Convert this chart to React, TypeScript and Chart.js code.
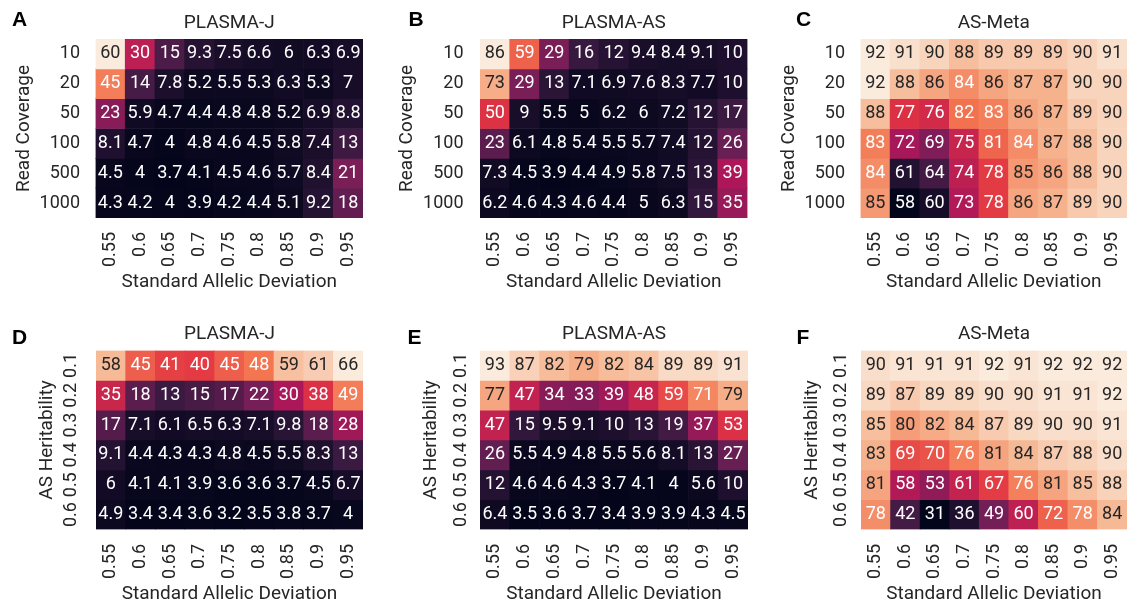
import React, { useEffect, useRef } from 'react';
import { Chart, registerables } from 'chart.js';

Chart.register(...registerables);

// ---------- data ----------
const sadLabels = ['0.55', '0.6', '0.65', '0.7', '0.75', '0.8', '0.85', '0.9', '0.95'];
const coverageLabels = ['10', '20', '50', '100', '500', '1000'];
const heritabilityLabels = ['0.1', '0.2', '0.3', '0.4', '0.5', '0.6'];

const plasmaJCoverage = [
  [60, 30, 15, 9.3, 7.5, 6.6, 6, 6.3, 6.9],
  [45, 14, 7.8, 5.2, 5.5, 5.3, 6.3, 5.3, 7],
  [23, 5.9, 4.7, 4.4, 4.8, 4.8, 5.2, 6.9, 8.8],
  [8.1, 4.7, 4, 4.8, 4.6, 4.5, 5.8, 7.4, 13],
  [4.5, 4, 3.7, 4.1, 4.5, 4.6, 5.7, 8.4, 21],
  [4.3, 4.2, 4, 3.9, 4.2, 4.4, 5.1, 9.2, 18],
];
const plasmaASCoverage = [
  [86, 59, 29, 16, 12, 9.4, 8.4, 9.1, 10],
  [73, 29, 13, 7.1, 6.9, 7.6, 8.3, 7.7, 10],
  [50, 9, 5.5, 5, 6.2, 6, 7.2, 12, 17],
  [23, 6.1, 4.8, 5.4, 5.5, 5.7, 7.4, 12, 26],
  [7.3, 4.5, 3.9, 4.4, 4.9, 5.8, 7.5, 13, 39],
  [6.2, 4.6, 4.3, 4.6, 4.4, 5, 6.3, 15, 35],
];
const asMetaCoverage = [
  [92, 91, 90, 88, 89, 89, 89, 90, 91],
  [92, 88, 86, 84, 86, 87, 87, 90, 90],
  [88, 77, 76, 82, 83, 86, 87, 89, 90],
  [83, 72, 69, 75, 81, 84, 87, 88, 90],
  [84, 61, 64, 74, 78, 85, 86, 88, 90],
  [85, 58, 60, 73, 78, 86, 87, 89, 90],
];
const plasmaJHeritability = [
  [58, 45, 41, 40, 45, 48, 59, 61, 66],
  [35, 18, 13, 15, 17, 22, 30, 38, 49],
  [17, 7.1, 6.1, 6.5, 6.3, 7.1, 9.8, 18, 28],
  [9.1, 4.4, 4.3, 4.3, 4.8, 4.5, 5.5, 8.3, 13],
  [6, 4.1, 4.1, 3.9, 3.6, 3.6, 3.7, 4.5, 6.7],
  [4.9, 3.4, 3.4, 3.6, 3.2, 3.5, 3.8, 3.7, 4],
];
const plasmaASHeritability = [
  [93, 87, 82, 79, 82, 84, 89, 89, 91],
  [77, 47, 34, 33, 39, 48, 59, 71, 79],
  [47, 15, 9.5, 9.1, 10, 13, 19, 37, 53],
  [26, 5.5, 4.9, 4.8, 5.5, 5.6, 8.1, 13, 27],
  [12, 4.6, 4.6, 4.3, 3.7, 4.1, 4, 5.6, 10],
  [6.4, 3.5, 3.6, 3.7, 3.4, 3.9, 3.9, 4.3, 4.5],
];
const asMetaHeritability = [
  [90, 91, 91, 91, 92, 91, 92, 92, 92],
  [89, 87, 89, 89, 90, 90, 91, 91, 92],
  [85, 80, 82, 84, 87, 89, 90, 90, 91],
  [83, 69, 70, 76, 81, 84, 87, 88, 90],
  [81, 58, 53, 61, 67, 76, 81, 85, 88],
  [78, 42, 31, 36, 49, 60, 72, 78, 84],
];

// ---------- colour map (seaborn "rocket") ----------
const rocketStops: [number, string][] = [
  [0, '#03051a'],
  [1 / 7, '#35193e'],
  [2 / 7, '#701f57'],
  [3 / 7, '#ad1759'],
  [4 / 7, '#e13342'],
  [5 / 7, '#f37651'],
  [6 / 7, '#f6b48f'],
  [1, '#faebdd'],
];

function hexToRgb(h: string): [number, number, number] {
  const n = parseInt(h.slice(1), 16);
  return [(n >> 16) & 255, (n >> 8) & 255, n & 255];
}

function rocket(t: number): [number, number, number] {
  const x = Math.max(0, Math.min(1, t));
  for (let i = 1; i < rocketStops.length; i++) {
    const [p1, c1] = rocketStops[i];
    const [p0, c0] = rocketStops[i - 1];
    if (x <= p1) {
      const f = (x - p0) / (p1 - p0);
      const a = hexToRgb(c0);
      const b = hexToRgb(c1);
      return [0, 1, 2].map((k) => a[k] + (b[k] - a[k]) * f) as [number, number, number];
    }
  }
  return hexToRgb(rocketStops[rocketStops.length - 1][1]);
}

function luminance(rgb: [number, number, number]): number {
  const lin = (c: number) => {
    const v = c / 255;
    return v <= 0.03928 ? v / 12.92 : Math.pow((v + 0.055) / 1.055, 2.4);
  };
  return 0.2126 * lin(rgb[0]) + 0.7152 * lin(rgb[1]) + 0.0722 * lin(rgb[2]);
}

const rgbStr = (c: [number, number, number]) =>
  `rgb(${Math.round(c[0])},${Math.round(c[1])},${Math.round(c[2])})`;

// ---------- panel layout ----------
type Panel = {
  letter: string;
  letterX: number;
  letterY: number;
  title: string;
  values: number[][];
  rows: string[];
  yTitle: string;
  left: number;
  top: number;
  width: number;
  height: number;
  yAxisWidth: number;
  padRight: number;
  titlePadTop: number;
  titlePadBottom: number;
  xAxisHeight: number;
  xTickPad: number;
  xTitlePadBottom: number;
  yTitlePad: number;
  yTickPad: number;
  rotateY: boolean;
};

const panels: Panel[] = [
  { letter: 'A', letterX: 12, letterY: 7, title: 'PLASMA-J', values: plasmaJCoverage, rows: coverageLabels, yTitle: 'Read Coverage',
    left: 0, top: 0, width: 380, height: 300, yAxisWidth: 95.5, padRight: 17, titlePadTop: 11.6, titlePadBottom: 4.6,
    xAxisHeight: 82, xTickPad: 14, xTitlePadBottom: 6.6, yTitlePad: 12.6, yTickPad: 15.5, rotateY: false },
  { letter: 'B', letterX: 408.5, letterY: 7, title: 'PLASMA-AS', values: plasmaASCoverage, rows: coverageLabels, yTitle: 'Read Coverage',
    left: 380, top: 0, width: 375, height: 300, yAxisWidth: 100, padRight: 7.5, titlePadTop: 11.6, titlePadBottom: 4.6,
    xAxisHeight: 82, xTickPad: 14, xTitlePadBottom: 6.6, yTitlePad: 16.1, yTickPad: 16.5, rotateY: false },
  { letter: 'C', letterX: 796, letterY: 7, title: 'AS-Meta', values: asMetaCoverage, rows: coverageLabels, yTitle: 'Read Coverage',
    left: 755, top: 0, width: 372, height: 300, yAxisWidth: 105.5, padRight: 0, titlePadTop: 11.6, titlePadBottom: 4.6,
    xAxisHeight: 82, xTickPad: 14, xTitlePadBottom: 6.6, yTitlePad: 22.6, yTickPad: 15.5, rotateY: false },
  { letter: 'D', letterX: 12, letterY: 324.5, title: 'PLASMA-J', values: plasmaJHeritability, rows: heritabilityLabels, yTitle: 'AS Heritability',
    left: 0, top: 300, width: 380, height: 306, yAxisWidth: 96, padRight: 17, titlePadTop: 22.6, titlePadBottom: 5.1,
    xAxisHeight: 76.5, xTickPad: 14.5, xTitlePadBottom: 0, yTitlePad: 36.1, yTickPad: 12.5, rotateY: true },
  { letter: 'E', letterX: 407.5, letterY: 324.5, title: 'PLASMA-AS', values: plasmaASHeritability, rows: heritabilityLabels, yTitle: 'AS Heritability',
    left: 380, top: 300, width: 375, height: 306, yAxisWidth: 100, padRight: 7, titlePadTop: 22.6, titlePadBottom: 5.1,
    xAxisHeight: 76.5, xTickPad: 14.5, xTitlePadBottom: 0, yTitlePad: 39.4, yTickPad: 6.5, rotateY: true },
  { letter: 'F', letterX: 796.5, letterY: 324.5, title: 'AS-Meta', values: asMetaHeritability, rows: heritabilityLabels, yTitle: 'AS Heritability',
    left: 755, top: 300, width: 372, height: 306, yAxisWidth: 106, padRight: 0, titlePadTop: 22.6, titlePadBottom: 5.1,
    xAxisHeight: 76.5, xTickPad: 14.5, xTitlePadBottom: 0, yTitlePad: 46.1, yTickPad: 7.2, rotateY: true },
];

const TEXT = '#262626';
const FONT = 'Roboto';
const TITLE_SIZE = 19;
const TICK_SIZE = 18;
const CELL_SIZE = 18;

function Heatmap({ p }: { p: Panel }) {
  const ref = useRef<HTMLCanvasElement | null>(null);

  useEffect(() => {
    if (!ref.current) return;
    const flat = p.values.flat();
    const vmin = Math.min(...flat);
    const vmax = Math.max(...flat);
    const cellColors = p.values.map((row) => row.map((v) => rocket((v - vmin) / (vmax - vmin))));

    const datasets = p.values.map((row, r) => ({
      label: p.rows[r],
      data: row.map(() => [r, r + 1]),
      backgroundColor: cellColors[r].map(rgbStr),
      borderWidth: 0,
      barPercentage: 1,
      categoryPercentage: 1,
      grouped: false,
    }));

    const annotate = {
      id: 'cellText',
      afterDatasetsDraw(chart: any) {
        const ctx = chart.ctx;
        ctx.save();
        ctx.font = `${CELL_SIZE}px ${FONT}`;
        ctx.textAlign = 'center';
        ctx.textBaseline = 'middle';
        p.values.forEach((row, r) => {
          const meta = chart.getDatasetMeta(r);
          row.forEach((v, c) => {
            const el = meta.data[c];
            if (!el) return;
            const { x, y, base } = el.getProps(['x', 'y', 'base'], true);
            ctx.fillStyle = luminance(cellColors[r][c]) > 0.408 ? TEXT : '#ffffff';
            ctx.fillText(String(v), x, (y + base) / 2);
          });
        });
        ctx.restore();
      },
    };

    const chart = new Chart(ref.current, {
      type: 'bar',
      data: { labels: sadLabels, datasets: datasets as any },
      plugins: [annotate],
      options: {
        animation: false,
        responsive: false,
        maintainAspectRatio: false,
        layout: { padding: { left: 0, right: p.padRight, top: 0, bottom: 0 } },
        plugins: {
          legend: { display: false },
          tooltip: { enabled: false },
          title: {
            display: true,
            text: p.title,
            color: TEXT,
            fullSize: false,
            font: { family: FONT, size: TITLE_SIZE, weight: 'normal' },
            padding: { top: p.titlePadTop, bottom: p.titlePadBottom },
          },
        },
        scales: {
          x: {
            type: 'category',
            offset: true,
            grid: { display: false, drawTicks: false },
            border: { display: false },
            ticks: {
              color: TEXT,
              font: { family: FONT, size: TICK_SIZE },
              padding: p.xTickPad,
              minRotation: 90,
              maxRotation: 90,
              autoSkip: false,
            },
            title: {
              display: true,
              text: 'Standard Allelic Deviation',
              color: TEXT,
              font: { family: FONT, size: TITLE_SIZE },
              padding: { top: 0, bottom: p.xTitlePadBottom },
            },
            afterFit: (s: any) => {
              s.height = p.xAxisHeight;
              s.paddingLeft = 0;
              s.paddingRight = 0;
              s.paddingTop = 0;
              s.paddingBottom = 0;
            },
          },
          y: {
            type: 'linear',
            min: 0,
            max: p.rows.length,
            reverse: true,
            grid: { display: false, drawTicks: false },
            border: { display: false },
            afterBuildTicks: (s: any) => {
              s.ticks = p.rows.map((_, i) => ({ value: i + 0.5 }));
            },
            ticks: {
              color: TEXT,
              font: { family: FONT, size: TICK_SIZE },
              padding: p.yTickPad,
              autoSkip: false,
              minRotation: p.rotateY ? 90 : 0,
              maxRotation: p.rotateY ? 90 : 0,
              crossAlign: p.rotateY ? 'center' : 'near',
              callback: (value: any) => p.rows[Math.floor(Number(value))],
            },
            title: {
              display: true,
              text: p.yTitle,
              color: TEXT,
              font: { family: FONT, size: TITLE_SIZE },
              padding: { top: p.yTitlePad, bottom: 0 },
            },
            afterFit: (s: any) => {
              s.width = p.yAxisWidth;
              s.paddingLeft = 0;
              s.paddingRight = 0;
              s.paddingTop = 0;
              s.paddingBottom = 0;
            },
          },
        },
      } as any,
    });
    return () => chart.destroy();
  }, [p]);

  return (
    <canvas
      ref={ref}
      width={p.width}
      height={p.height}
      style={{ position: 'absolute', left: p.left, top: p.top, width: p.width, height: p.height }}
    />
  );
}

export default function App() {
  return (
    <div style={{ position: 'fixed', left: 0, top: 0, width: 1127, height: 606, background: '#ffffff', overflow: 'hidden' }}>
      {panels.map((p) => (
        <Heatmap key={p.letter} p={p} />
      ))}
      {panels.map((p) => (
        <div
          key={'l' + p.letter}
          style={{
            position: 'absolute',
            left: p.letterX,
            top: p.letterY,
            fontFamily: '"Liberation Sans", Arial, sans-serif',
            fontWeight: 'bold',
            fontSize: 21,
            color: '#000',
            lineHeight: 'normal',
          }}
        >
          {p.letter}
        </div>
      ))}
    </div>
  );
}
